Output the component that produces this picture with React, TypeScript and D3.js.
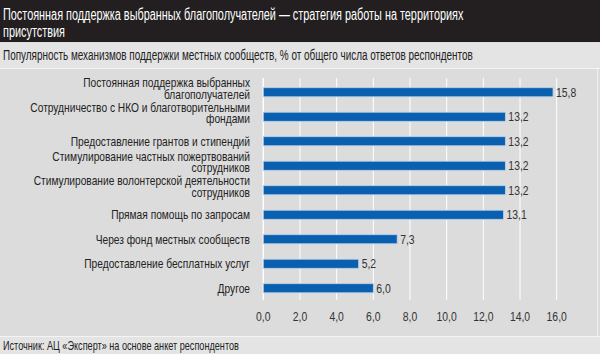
import React from "react";
import * as d3 from "d3";

const titleLines = [
  "Постоянная поддержка выбранных благополучателей — стратегия работы на территориях",
  "присутствия",
];
const subtitle =
  "Популярность механизмов поддержки местных сообществ, % от общего числа ответов респондентов";
const source = "Источник: АЦ «Эксперт» на основе анкет респондентов";

const categories = [
  "Постоянная поддержка выбранных\nблагополучателей",
  "Сотрудничество с НКО и благотворительными\nфондами",
  "Предоставление грантов и стипендий",
  "Стимулирование частных пожертвований\nсотрудников",
  "Стимулирование волонтерской деятельности\nсотрудников",
  "Прямая помощь по запросам",
  "Через фонд местных сообществ",
  "Предоставление бесплатных услуг",
  "Другое",
];
const values = [15.8, 13.2, 13.2, 13.2, 13.2, 13.1, 7.3, 5.2, 6.0];
const tickValues = [0, 2, 4, 6, 8, 10, 12, 14, 16];

const FONT = "'Liberation Sans', Arial, sans-serif";
const SX = 0.8;
const fmt = (v: number) => v.toFixed(1).replace(".", ",");

type TProps = {
  x: number;
  y: number;
  size: number;
  fill: string;
  anchor?: "start" | "middle" | "end";
  dy?: string;
  sx?: number;
  children: React.ReactNode;
};

function T({ x, y, size, fill, anchor = "start", dy, sx = SX, children }: TProps) {
  return (
    <text
      transform={`translate(${x},${y}) scale(${sx},1)`}
      fontSize={size}
      fill={fill}
      textAnchor={anchor}
      dy={dy}
    >
      {children}
    </text>
  );
}

export default function App() {
  const W = 600;
  const H = 354;
  const x = d3.scaleLinear().domain([0, 16]).range([263.3, 556.7]);
  const y = d3
    .scaleBand<number>()
    .domain(d3.range(categories.length))
    .range([80, 300.5])
    .paddingInner(0.63)
    .paddingOuter(0.315);
  const bh = y.bandwidth();

  return (
    <svg
      width={W}
      height={H}
      style={{ position: "fixed", left: 0, top: 0, display: "block" }}
      fontFamily={FONT}
    >
      <rect x={0} y={0} width={W} height={H} fill="#dcdcdc" />
      <rect x={0} y={0} width={W} height={42} fill="#231f20" />
      <rect x={0} y={43} width={W} height={25} fill="#e4e4e4" />
      <line x1={0} x2={W} y1={68.5} y2={68.5} stroke="#f4f4f4" />
      <line x1={597.5} x2={597.5} y1={69} y2={336} stroke="#f2f2f2" />
      <line x1={0} x2={W} y1={336.5} y2={336.5} stroke="#f4f4f4" />
      <rect x={0} y={337} width={W} height={17} fill="#e4e4e4" />

      {titleLines.map((t, i) => (
        <T key={i} x={3} y={20 + i * 17} fill="#ffffff" size={16} sx={0.68}>
          {t}
        </T>
      ))}
      <T x={3} y={60} fill="#222" size={14} sx={0.71}>
        {subtitle}
      </T>

      {tickValues.map((t) => (
        <g key={t}>
          <line
            x1={x(t)}
            x2={x(t)}
            y1={78}
            y2={300}
            stroke="#ffffff"
            strokeWidth={t === 0 ? 1.5 : 1}
          />
          <T x={x(t)} y={320.5} anchor="middle" size={13} fill="#333">
            {fmt(t)}
          </T>
        </g>
      ))}

      {values.map((v, i) => {
        const yc = (y(i) as number) + bh / 2;
        const lines = categories[i].split("\n");
        return (
          <g key={i}>
            <rect
              x={x(0)}
              y={y(i) as number}
              width={x(v) - x(0)}
              height={bh}
              fill="#0a5fae"
              stroke="#b9d1ec"
              strokeWidth={0.8}
            />
            <T x={x(v) + 3} y={yc + 4.5} size={13} fill="#333">
              {fmt(v)}
            </T>
            {lines.map((l, j) => (
              <T
                key={j}
                x={250}
                y={lines.length === 1 ? yc + 4.3 : yc - 5 + j * 11.5}
                anchor="end"
                size={12}
                sx={0.85}
                fill="#222"
              >
                {l}
              </T>
            ))}
          </g>
        );
      })}

      <T x={3} y={350} size={12.5} fill="#222" sx={0.73}>
        {source}
      </T>
    </svg>
  );
}
